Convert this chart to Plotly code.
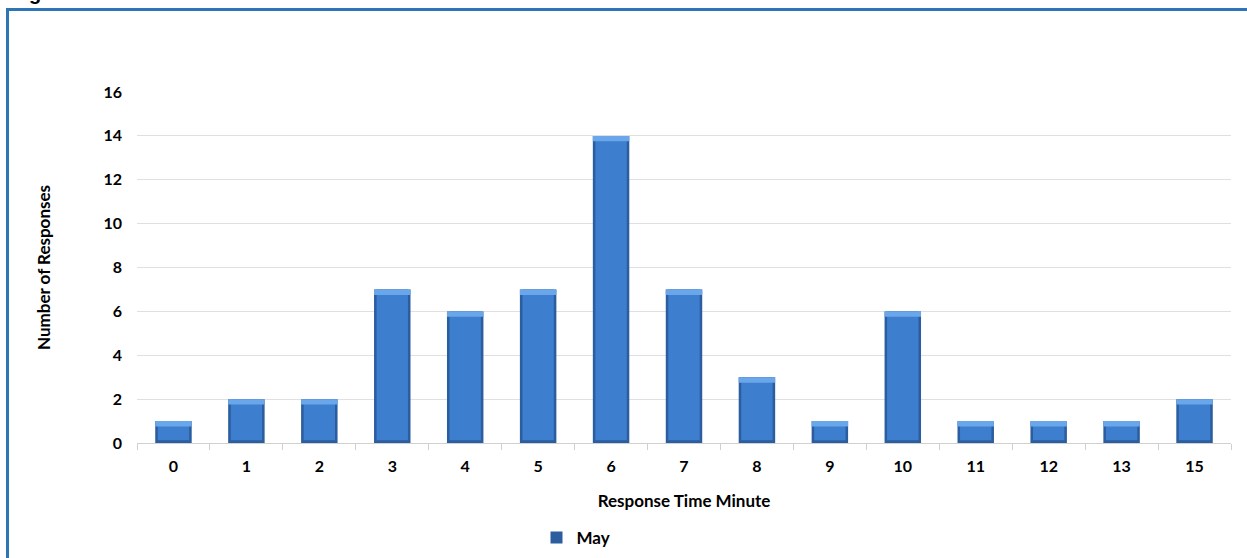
import plotly.graph_objects as go

# Response time distribution for May
minutes = ["0", "1", "2", "3", "4", "5", "6", "7", "8", "9", "10", "11", "12", "13", "15"]
responses = [1, 2, 2, 7, 6, 7, 14, 7, 3, 1, 6, 1, 1, 1, 2]
y_ticks = [0, 2, 4, 6, 8, 10, 12, 14, 16]

CAP = 0.25  # height of the lighter bevel band on each bar top
BASE_SHADE = 0.12  # darker band at the foot of each bar

FONT = "Lato, 'Open Sans', sans-serif"

fig = go.Figure()

# dark outer body (gives the shaded bar edges)
fig.add_trace(go.Bar(
    x=minutes, y=responses, width=0.5, name="May",
    marker=dict(color="#2c5d9e", line=dict(width=0)),
    hoverinfo="x+y",
))
# lighter inner face
fig.add_trace(go.Bar(
    x=minutes, y=[v - BASE_SHADE for v in responses],
    base=[BASE_SHADE] * len(responses), width=0.43, showlegend=False,
    marker=dict(color="#3d7ecf", line=dict(width=0)),
    hoverinfo="skip",
))
# bevelled highlight along the top of each bar
fig.add_trace(go.Bar(
    x=minutes, y=[CAP] * len(responses),
    base=[v - CAP for v in responses], width=0.5, showlegend=False,
    marker=dict(color="#6aa6ea", line=dict(width=0)),
    hoverinfo="skip",
))

L, R, T, B = 137, 16, 92, 115
W, H = 1247, 558
pw, ph = W - L - R, H - T - B


def px_x(p):
    return (p - L) / pw


def px_y(p):
    return (H - B - p) / ph


fig.update_layout(
    width=W, height=H,
    margin=dict(l=L, r=R, t=T, b=B, autoexpand=False),
    paper_bgcolor="white", plot_bgcolor="white",
    barmode="overlay",
    font=dict(family=FONT, size=16, color="black", weight="bold"),
    showlegend=True,
    legend=dict(
        orientation="h", xref="container", yref="container",
        x=576 / W, y=(H - 538) / H,
        xanchor="center", yanchor="middle",
        font=dict(family=FONT, size=17, color="black", weight="bold"),
        itemwidth=30,
    ),
    xaxis=dict(
        type="category", categoryorder="array", categoryarray=minutes,
        showgrid=False, showline=True, linecolor="#d0d0d0", linewidth=1,
        ticks="outside", tickson="boundaries", ticklen=6, tickcolor="#d0d0d0",
        ticklabelstandoff=9,
        tickfont=dict(family=FONT, size=16, color="black", weight="bold"),
        title=dict(text="Response Time Minute", standoff=20,
                   font=dict(family=FONT, size=17, color="black", weight="bold")),
        fixedrange=True,
    ),
    yaxis=dict(
        range=[0, 16], tickvals=y_ticks, ticktext=[str(v) for v in y_ticks],
        showgrid=True, gridcolor="#e0e0e0", gridwidth=1,
        zeroline=False, showline=False, ticks="",
        ticklabelstandoff=14,
        tickfont=dict(family=FONT, size=16, color="black", weight="bold"),
        title=dict(text="Number of Responses", standoff=48,
                   font=dict(family=FONT, size=17, color="black", weight="bold")),
        fixedrange=True,
    ),
    shapes=[
        dict(
            type="rect", xref="paper", yref="paper",
            x0=px_x(7.5), x1=px_x(W + 20), y0=px_y(H + 20), y1=px_y(9.5),
            line=dict(color="#2e75b6", width=3), fillcolor="rgba(0,0,0,0)",
            layer="above",
        )
    ],
    annotations=[
        dict(
            text="g", xref="paper", yref="paper",
            x=px_x(35), y=px_y(-7), xanchor="center", yanchor="middle",
            showarrow=False, font=dict(family="Liberation Sans", size=20, color="black"),
        )
    ],
)

fig.write_html("out.html")
